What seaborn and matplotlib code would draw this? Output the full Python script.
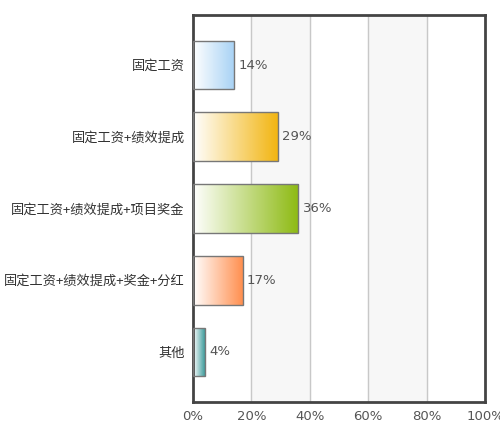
import matplotlib
matplotlib.use("Agg")
import matplotlib.pyplot as plt
import seaborn as sns
import numpy as np
import pandas as pd
from matplotlib.colors import LinearSegmentedColormap

categories = ["固定工资", "固定工资+绩效提成", "固定工资+绩效提成+项目奖金", "固定工资+绩效提成+奖金+分红", "其他"]
values = [14, 29, 36, 17, 4]
colors = ["#a9d3f5", "#f2b511", "#8dba12", "#ff8f4f", "#3f9c9c"]
ticks = [0, 20, 40, 60, 80, 100]
tick_labels = ["0%", "20%", "40%", "60%", "80%", "100%"]

sns.set_style("white")
plt.rcParams['font.family'] = ['Noto Sans CJK SC', 'DejaVu Sans']

fig = plt.figure(figsize=(5, 4.38), dpi=100)
ax = fig.add_axes([0.386, 0.082, 0.584, 0.884])
df = pd.DataFrame({"cat": categories, "val": values})
sns.barplot(data=df, x="val", y="cat", orient="h", ax=ax, width=0.68,
            color="white", edgecolor="#777777", linewidth=1, zorder=3)

for x0 in (20, 60):
    ax.axvspan(x0, x0 + 20, color="#f7f7f7", zorder=0)
for t in ticks[1:-1]:
    ax.axvline(t, color="#c8c8c8", lw=1, zorder=1)

grad = np.linspace(0, 1, 256).reshape(1, -1)
for p, c in zip(ax.patches, colors):
    x, y = p.get_x(), p.get_y()
    w, h = p.get_width(), p.get_height()
    cmap = LinearSegmentedColormap.from_list("g", ["#ffffff", c])
    im = ax.imshow(grad, cmap=cmap, aspect="auto", extent=(x, x + w, y + h, y),
                   zorder=2, interpolation="bilinear")
    im.set_clip_path(p)
    p.set_facecolor("none")
for p, v in zip(ax.patches, values):
    ax.text(p.get_x() + p.get_width() + 1.5, p.get_y() + p.get_height() / 2,
            f"{v}%", va="center", ha="left", fontsize=9.5, color="#555555",
            family=['DejaVu Sans'], zorder=4)

ax.set_xlim(0, 100)
ax.set_ylim(4.7, -0.7)
ax.set_xticks(ticks)
ax.set_xticklabels(tick_labels, family=['DejaVu Sans'])
ax.tick_params(axis="x", labelsize=9.5, colors="#555555", length=0, pad=6)
ax.tick_params(axis="y", labelsize=9.5, colors="#333333", length=0, pad=6)
ax.set_xlabel("")
ax.set_ylabel("")
for s in ax.spines.values():
    s.set_color("#444444")
    s.set_linewidth(2)
ax.set_zorder(1)
fig.savefig("out.png", dpi=100)
